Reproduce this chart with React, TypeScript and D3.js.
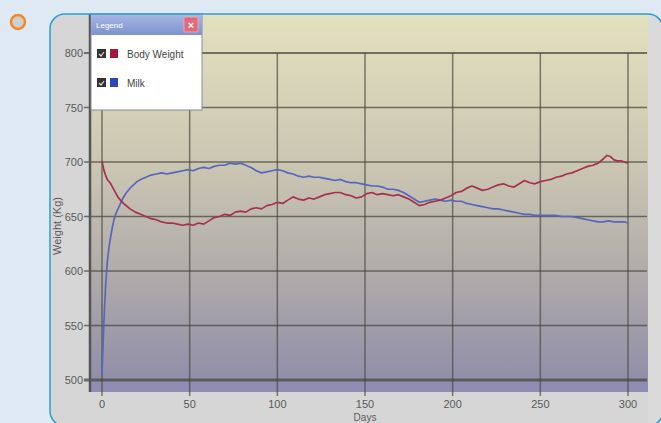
import React from "react";
import * as d3 from "d3";

const xTicks = [0, 50, 100, 150, 200, 250, 300];
const yTicks = [500, 550, 600, 650, 700, 750, 800];

const bodyDays = [0,1,2,3,5,7,9,11,13,16,19,22,25,28,31,34,37,40,43,46,49,52,55,58,61,64,67,70,73,76,79,82,85,88,91,94,97,100,103,106,109,112,115,118,121,124,127,130,133,136,139,142,145,148,151,154,157,160,163,166,169,172,175,178,181,184,187,190,193,196,199,202,205,208,211,214,217,220,223,226,229,232,235,238,241,244,247,250,253,256,259,262,265,268,271,274,277,280,283,286,288,290,292,294,296,298,300];
const bodyWeight = [701,693,688,684,680,674,668,664,661,657,654,652,650,648,647,645,644,644,643,642,643,642,644,643,646,649,650,652,651,654,655,654,657,658,657,660,661,663,662,665,668,666,665,667,666,668,670,671,672,672,670,669,667,668,671,672,670,671,670,669,670,668,666,663,660,661,663,664,665,667,669,672,673,676,678,676,674,675,677,679,680,678,677,680,683,681,680,682,683,684,686,687,689,690,692,694,696,697,699,703,706,705,702,701,701,700,699];

const milkDays = [0,1,2,3,4,5,6,7,8,10,12,14,16,18,20,22,25,28,31,34,37,40,43,46,49,52,55,58,61,64,67,70,73,76,79,82,85,88,91,94,97,100,103,106,109,112,115,118,121,124,127,130,133,136,139,142,145,148,151,154,157,160,163,166,169,172,175,178,181,184,187,190,193,196,199,202,205,208,211,214,217,220,223,226,229,232,235,238,241,244,247,250,253,256,259,262,265,268,271,274,277,280,283,286,289,292,295,298,300];
const milkValues = [505,550,585,608,622,632,641,648,653,660,667,672,676,679,682,684,686,688,689,690,689,690,691,692,693,692,694,695,694,696,697,697,699,698,699,697,695,692,690,691,692,693,692,690,689,687,686,687,686,686,685,684,683,684,682,681,681,680,679,678,678,677,675,675,674,672,669,666,663,664,665,666,665,664,665,664,664,662,661,660,659,658,657,657,656,655,654,653,652,652,651,651,651,651,651,650,650,650,649,648,647,646,645,645,646,645,645,645,644];

const seriesNames = ["Body Weight", "Milk"];
const seriesColors = ["#a8304c", "#5866be"];
const legendSwatch = ["#a3183a", "#2c46b6"];

export default function App() {
  const W = 661, H = 423;
  const x = d3.scaleLinear().domain([0, 300]).range([102, 628]);
  const y = d3.scaleLinear().domain([500, 800]).range([380, 53]);
  const line = d3.line<[number, number]>().x(d => x(d[0])).y(d => y(d[1]));
  const bodyPts = bodyDays.map((d, i) => [d, bodyWeight[i]] as [number, number]);
  const milkPts = milkDays.map((d, i) => [d, milkValues[i]] as [number, number]);
  const plotL = 90, plotR = 648, plotT = 14, plotB = 392;
  const font = "Arial, 'Liberation Sans', sans-serif";

  return (
    <svg width={W} height={H} style={{ position: "absolute", left: 0, top: 0 }} fontFamily={font}>
      <defs>
        <linearGradient id="plotBg" x1="0" y1="0" x2="0" y2="1">
          <stop offset="0%" stopColor="#e4e1bf" />
          <stop offset="40%" stopColor="#cbc6b2" />
          <stop offset="70%" stopColor="#aeaaaa" />
          <stop offset="100%" stopColor="#8e8ba9" />
        </linearGradient>
        <linearGradient id="legTitle" x1="0" y1="0" x2="0" y2="1">
          <stop offset="0%" stopColor="#a9b7e2" />
          <stop offset="100%" stopColor="#7d92cf" />
        </linearGradient>
        <clipPath id="panelClip">
          <rect x={50} y={14} width={613} height={412} rx={15} ry={15} />
        </clipPath>
      </defs>
      <rect x={0} y={0} width={W} height={H} fill="#dfe9f4" />
      <circle cx={18} cy={22} r={7} fill="#cfcfcf" stroke="#f08a24" strokeWidth={2.5} />
      <g clipPath="url(#panelClip)">
        <rect x={50} y={14} width={613} height={412} fill="#d6d6d6" />
        <rect x={plotL} y={plotT} width={plotR - plotL} height={plotB - plotT} fill="url(#plotBg)" />
        <rect x={plotL} y={381} width={plotR - plotL} height={plotB - 381} fill="#8f8db2" />
        <rect x={plotR} y={14} width={15} height={412} fill="#dadada" />
      </g>
      {/* grid */}
      {yTicks.map(t => (
        <line key={"gy" + t} x1={84} x2={plotR - 1} y1={y(t)} y2={y(t)}
          stroke="#4a4a42" strokeOpacity={0.75} strokeWidth={t === 500 ? 3 : t === 800 ? 2 : 1.5} />
      ))}
      {xTicks.map(t => (
        <line key={"gx" + t} x1={x(t)} x2={x(t)} y1={y(800)} y2={396}
          stroke="#4a4a42" strokeOpacity={0.7} strokeWidth={1.5} />
      ))}
      <line x1={plotL} x2={plotL} y1={plotT} y2={plotB} stroke="#555" strokeWidth={2.5} />
      {/* series */}
      <path d={line(milkPts) || ""} fill="none" stroke={seriesColors[1]} strokeWidth={1.7} strokeLinejoin="round" />
      <path d={line(bodyPts) || ""} fill="none" stroke={seriesColors[0]} strokeWidth={1.7} strokeLinejoin="round" />
      {/* axis labels */}
      {yTicks.map(t => (
        <text key={"ly" + t} x={83} y={y(t) + 4} textAnchor="end" fontSize={11} fill="#5a5a5a">{t}</text>
      ))}
      {xTicks.map(t => (
        <text key={"lx" + t} x={x(t)} y={408} textAnchor="middle" fontSize={11} fill="#5a5a5a">{t}</text>
      ))}
      <text x={x(150)} y={421} textAnchor="middle" fontSize={10} fill="#5a5a5a">Days</text>
      <text transform={`translate(61,226) rotate(-90)`} textAnchor="middle" fontSize={11} fill="#5a5a5a">Weight (Kg)</text>
      {/* legend */}
      <g>
        <rect x={91} y={14} width={111} height={96} fill="#fff" stroke="#8a8a9a" strokeWidth={1} />
        <rect x={91} y={14} width={111} height={21} fill="url(#legTitle)" />
        <text x={96} y={28} fontSize={8} fill="#fff">Legend</text>
        <rect x={184} y={17} width={14} height={15} fill="#e3697a" stroke="#f2b0b8" strokeWidth={0.8} rx={1} />
        <text x={191} y={29} textAnchor="middle" fontSize={11} fill="#fff" fontWeight="bold">×</text>
        {seriesNames.map((n, i) => {
          const cy = 54 + i * 29;
          return (
            <g key={n}>
              <rect x={97} y={cy - 5} width={9} height={9} fill="#333" />
              <path d={`M${99},${cy} l2,2 l3,-4`} fill="none" stroke="#ddd" strokeWidth={1.2} />
              <rect x={110} y={cy - 5} width={8} height={9} fill={legendSwatch[i]} />
              <text x={127} y={cy + 4} fontSize={10} fill="#444">{n}</text>
            </g>
          );
        })}
      </g>
      {/* panel border */}
      <rect x={50} y={14} width={613} height={412} rx={15} ry={15} fill="none" stroke="#2a9fd8" strokeWidth={1.5} />
    </svg>
  );
}
